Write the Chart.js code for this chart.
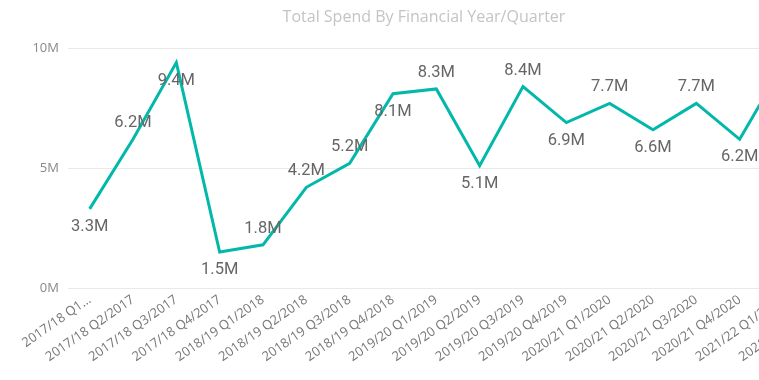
<!DOCTYPE html>
<html>
<head>
<meta charset="utf-8">
<script src="https://cdn.jsdelivr.net/npm/chart.js@4"></script>
<style>
    html, body { margin: 0; padding: 0; background: #fff; overflow: hidden; }
    #wrap { width: 860px; height: 380px; }
</style>
</head>
<body>
<div id="wrap"><canvas id="spendChart"></canvas></div>
<script>
// Total spend per financial year / quarter (millions)
const quarters = [
    '2017/18 Q1/2017', '2017/18 Q2/2017', '2017/18 Q3/2017', '2017/18 Q4/2017',
    '2018/19 Q1/2018', '2018/19 Q2/2018', '2018/19 Q3/2018', '2018/19 Q4/2018',
    '2019/20 Q1/2019', '2019/20 Q2/2019', '2019/20 Q3/2019', '2019/20 Q4/2019',
    '2020/21 Q1/2020', '2020/21 Q2/2020', '2020/21 Q3/2020', '2020/21 Q4/2020',
    '2021/22 Q1/2021', '2021/22 Q2/2021'
];
const spendMillions = [3.3, 6.2, 9.4, 1.5, 1.8, 4.2, 5.2, 8.1, 8.3, 5.1, 8.4, 6.9, 7.7, 6.6, 7.7, 6.2, 9.3, 7.5];
const yTicks = [0, 5, 10];

// labels drawn under the point instead of above
const labelsBelow = [0, 2, 3, 7, 9, 11, 13, 15];

const valueLabels = {
    id: 'valueLabels',
    afterDatasetsDraw(chart) {
        const ctx = chart.ctx;
        const meta = chart.getDatasetMeta(0);
        ctx.save();
        ctx.font = '16.5px Roboto';
        ctx.fillStyle = '#666';
        ctx.textAlign = 'center';
        ctx.textBaseline = 'middle';
        meta.data.forEach((pt, i) => {
            const dy = labelsBelow.includes(i) ? 18 : -16;
            ctx.fillText(spendMillions[i] + 'M', pt.x, pt.y + dy);
        });
        ctx.restore();
    }
};

const spendCtx = document.getElementById('spendChart').getContext('2d');
new Chart(spendCtx, {
    type: 'line',
    data: {
        labels: quarters,
        datasets: [{
            label: 'Total Spend',
            data: spendMillions,
            borderColor: '#01B8AA',
            borderWidth: 3,
            tension: 0,
            pointRadius: 0,
            fill: false
        }]
    },
    options: {
        responsive: true,
        maintainAspectRatio: false,
        animation: false,
        layout: { padding: { right: 12 } },
        plugins: {
            legend: { display: false },
            tooltip: { enabled: false },
            title: {
                display: true,
                text: 'Total Spend By Financial Year/Quarter',
                color: '#c4c4c4',
                font: { family: 'Open Sans', size: 16, weight: 'normal' },
                padding: { top: 8, bottom: 21 }
            }
        },
        scales: {
            x: {
                offset: true,
                grid: { display: false, drawTicks: false },
                border: { display: false },
                ticks: {
                    color: '#777',
                    font: { family: 'Open Sans', size: 13 },
                    minRotation: 35,
                    maxRotation: 35,
                    autoSkip: false,
                    padding: 4,
                    callback: (v, i) => i === 0 ? quarters[i].slice(0, 10) + '...' : quarters[i]
                },
                afterFit: (s) => { s.height = 92; }
            },
            y: {
                min: 0,
                max: 10,
                afterBuildTicks: (s) => { s.ticks = yTicks.map(v => ({ value: v })); },
                grid: { color: '#e9e9e9', drawTicks: false },
                border: { display: false },
                ticks: {
                    color: '#888',
                    font: { family: 'Open Sans', size: 13 },
                    padding: 9,
                    callback: (v) => v + 'M'
                },
                afterFit: (s) => { s.width = 68; }
            }
        }
    },
    plugins: [valueLabels]
});
</script>
</body>
</html>
